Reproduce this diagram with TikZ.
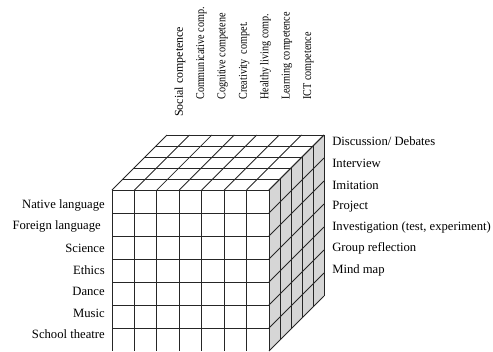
\documentclass[tikz,border=0pt]{standalone}
\usepackage{fontspec}
\setmainfont{Liberation Serif}
\begin{document}
\begin{tikzpicture}[x=0.025cm,y=-0.025cm]
        \tikzstyle{gridline}=[draw=black!85,line width=0.6pt]
        \tikzstyle{sideface}=[fill=black!16]
        \tikzstyle{label}=[font=\fontsize{9}{11}\selectfont,inner sep=0pt]
        \tikzstyle{toplabel}=[font=\fontsize{8.5}{10}\selectfont,inner sep=0pt,anchor=west]
        \tikzstyle{narrow}=[xscale=0.85]
        \useasboundingbox (0,0) rectangle (493,351);
       \begin{scope}
         % right face
         \fill[sideface] (269,190) -- (324,135) -- (324,296) -- (269,351) -- cycle;
         \foreach \j in {0,...,5}
           \draw[gridline] (269+11*\j,190-11*\j) -- (269+11*\j,351-11*\j);
         \foreach \i in {0,...,7}
           \draw[gridline] (269,190+23*\i) -- (324,135+23*\i);
         % top face
         \foreach \j in {0,...,5}
           \draw[gridline] (112+11*\j,190-11*\j) -- (269+11*\j,190-11*\j);
         \foreach \k in {0,...,7}
           \draw[gridline] (112+22.43*\k,190) -- (167+22.43*\k,135);
         % front face
         \foreach \i in {0,...,6}
           \draw[gridline] (112,190+23*\i) -- (269,190+23*\i);
         \foreach \k in {0,...,7}
           \draw[gridline] (112+22.43*\k,190) -- (112+22.43*\k,351);
        \end{scope}
        % competences
        \node [toplabel,rotate=90] (c1) at (180,117) {Social competence};
        \node [toplabel,rotate=90,narrow] (c2) at (201.4,100) {Communicative comp.};
        \node [toplabel,rotate=90,narrow] (c3) at (222.8,100) {Cognitive competene};
        \node [toplabel,rotate=90,narrow] (c4) at (244.2,100) {Creativity\ \ compet.};
        \node [toplabel,rotate=90,narrow] (c5) at (265.6,100) {Healthy living\ comp.};
        \node [toplabel,rotate=90,narrow] (c6) at (287,100) {Learning competence};
        \node [toplabel,rotate=90,narrow] (c7) at (308.4,100) {ICT competence};
        % subjects
        \node [label,anchor=east] (s1) at (105,205) {Native language};
        \node [label,anchor=east] (s2) at (101,226) {Foreign language};
        \node [label,anchor=east] (s3) at (105,248) {Science};
        \node [label,anchor=east] (s4) at (105,270) {Ethics};
        \node [label,anchor=east] (s5) at (105,291) {Dance};
        \node [label,anchor=east] (s6) at (105,313) {Music};
        \node [label,anchor=east] (s7) at (105,334) {School theatre};
        % methods
        \node [label,anchor=west] (m1) at (332,141) {Discussion/ Debates};
        \node [label,anchor=west] (m2) at (332,163) {Interview};
        \node [label,anchor=west] (m3) at (332,185) {Imitation};
        \node [label,anchor=west] (m4) at (332,207) {Project};
        \node [label,anchor=west] (m5) at (332,227) {Investigation (test, experiment)};
        \node [label,anchor=west] (m6) at (332,248) {Group reflection};
        \node [label,anchor=west] (m7) at (332,270) {Mind map};
      \end{tikzpicture}
\end{document}
